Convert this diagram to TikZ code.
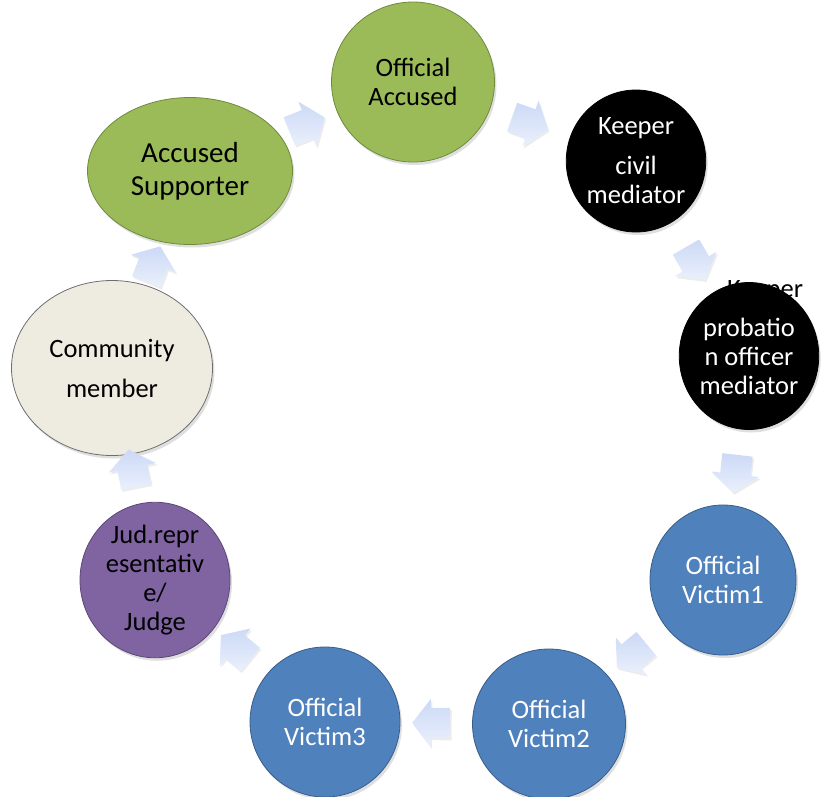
\documentclass[tikz,border=0pt]{standalone}
\usepackage{fontspec}
\setmainfont{Carlito}
\usetikzlibrary{shapes.geometric,shapes.arrows,shadows,calc}

\definecolor{stageGreen}{HTML}{9BBB59}
\definecolor{stageGreenLine}{HTML}{6F8A3E}
\definecolor{stageBlue}{HTML}{4F81BD}
\definecolor{stageBlueLine}{HTML}{385D8A}
\definecolor{stagePurple}{HTML}{8064A2}
\definecolor{stagePurpleLine}{HTML}{5C4776}
\definecolor{stageBeige}{HTML}{EEECE1}
\definecolor{stageBeigeLine}{HTML}{6E6E6E}
\definecolor{arrowTop}{HTML}{CCD9F6}
\definecolor{arrowBottom}{HTML}{EAF0FC}

\begin{document}
\begin{tikzpicture}[x=1pt, y=-1pt,
        stage/.style={ellipse, draw, line width=0.8pt, inner sep=0pt,
            align=center, font=\fontsize{26.5}{29}\selectfont,
            drop shadow={opacity=0.25, shadow xshift=2pt, shadow yshift=-3pt}},
        greenstage/.style={stage, fill=stageGreen, draw=stageGreenLine, text=black},
        darkstage/.style={stage, fill=black, draw=black, text=white},
        bluestage/.style={stage, fill=stageBlue, draw=stageBlueLine, text=white},
        judgestage/.style={stage, fill=stagePurple, draw=stagePurpleLine, text=black},
        publicstage/.style={stage, fill=stageBeige, draw=stageBeigeLine, text=black},
        flowarrow/.style={single arrow, draw=none, inner sep=0pt,
            text width=0pt, text height=15pt, text depth=15pt,
            top color=arrowTop, bottom color=arrowBottom,
            minimum height=38pt,
            single arrow head extend=9pt, single arrow tip angle=105,
            drop shadow={opacity=0.15, shadow xshift=1.5pt, shadow yshift=-2pt}},
    ]
        \useasboundingbox (0,0) rectangle (826,796);

        % Top of the circle
        \node[greenstage, minimum width=163pt, minimum height=160pt] (acc) at (413,82) {Official\\Accused};
        \node[greenstage, minimum width=205pt, minimum height=147pt,
            font=\fontsize{29}{33}\selectfont] (sup) at (190,171) {Accused\\Supporter};

        % Keepers
        \node[darkstage, minimum width=128pt, minimum height=142pt] (civ) at (636,161) {Keeper\\[11pt]civil\\mediator};
        \node[font=\fontsize{26.5}{29}\selectfont, anchor=base] (probhead) at (765,297) {Keeper};
        \node[darkstage, minimum width=128pt, minimum height=147pt] (prob) at (749,356) {probatio\\n officer\\mediator};

        % Victims
        \node[bluestage, minimum width=146pt, minimum height=150pt] (vic1) at (723,580) {Official\\Victim1};
        \node[bluestage, minimum width=153pt, minimum height=150pt] (vic2) at (549,724) {Official\\Victim2};
        \node[bluestage, minimum width=150pt, minimum height=150pt] (vic3) at (325,722) {Official\\Victim3};

        % Judge and community
        \node[judgestage, minimum width=150pt, minimum height=150pt] (jud) at (155,580) {Jud.repr\\esentativ\\e/\\Judge};
        \node[publicstage, minimum width=201pt, minimum height=175pt] (com) at (112,368) {Community\\[11pt]member};

        % Block arrows between the stages
        \foreach \from/\to [count=\i] in {sup/acc, acc/civ, civ/prob, prob/vic1,
            vic1/vic2, vic2/vic3, vic3/jud, jud/com, com/sup}
            \path let \p1=($(\to)-(\from)$), \n1={atan2(\y1,\x1)} in
                node[flowarrow, rotate=\n1] (arr\i) at ($(\from)!0.5!(\to)$) {};
    \end{tikzpicture}
\end{document}
